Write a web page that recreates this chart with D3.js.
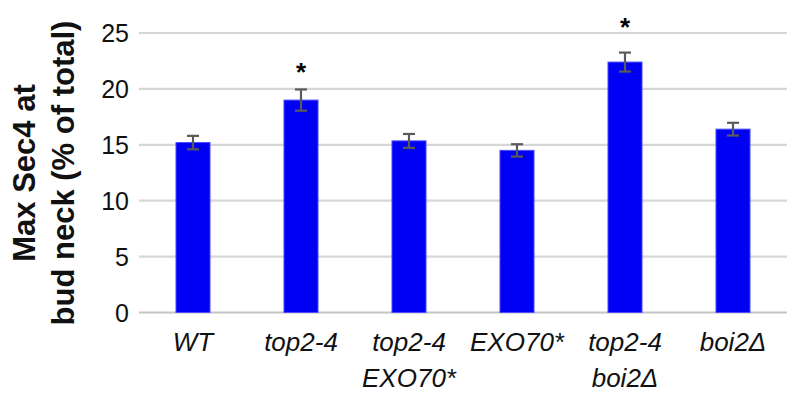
<!DOCTYPE html>
<html>
<head>
<meta charset="utf-8">
<script src="https://cdn.jsdelivr.net/npm/d3@7"></script>
<style>
  html, body { margin: 0; padding: 0; background: #fff; }
  svg { display: block; }
  text { font-family: "Liberation Sans", Arial, Helvetica, sans-serif; }
</style>
</head>
<body>
<svg id="chart" width="792" height="399"></svg>
<script>
const categories = ["WT", "top2-4", "top2-4 EXO70*", "EXO70*", "top2-4 boi2Δ", "boi2Δ"];
const labelLines = [["WT"], ["top2-4"], ["top2-4", "EXO70*"], ["EXO70*"], ["top2-4", "boi2Δ"], ["boi2Δ"]];
const values = [15.2, 19.0, 15.35, 14.5, 22.4, 16.4];
const errors = [0.6, 0.95, 0.62, 0.55, 0.85, 0.57];
const starCategories = ["top2-4", "top2-4 boi2Δ"];
const starValues = [22.0, 26.0];
const yTicks = [0, 5, 10, 15, 20, 25];
const yTitleLines = ["Max Sec4 at", "bud neck (% of total)"];

const svg = d3.select("#chart");
const plotLeft = 139, plotRight = 787, plotTop = 33, plotBottom = 312.5;

const x = d3.scaleBand().domain(categories).range([plotLeft, plotRight])
  .paddingInner(0.685).paddingOuter(0.3425);
const y = d3.scaleLinear().domain([0, 25]).range([plotBottom, plotTop]);

// gridlines
svg.append("g").selectAll("line").data(yTicks).join("line")
  .attr("x1", plotLeft).attr("x2", plotRight)
  .attr("y1", d => y(d)).attr("y2", d => y(d))
  .attr("stroke", d => d === 0 ? "#c4c4c4" : "#d6d6d6")
  .attr("stroke-width", 2.2);

// y tick labels
svg.append("g").selectAll("text").data(yTicks).join("text")
  .attr("x", 129).attr("y", d => y(d))
  .attr("dy", "0.36em")
  .attr("text-anchor", "end")
  .attr("font-size", 25)
  .attr("fill", "#111")
  .text(d => d);

// bars
svg.append("g").selectAll("rect").data(categories).join("rect")
  .attr("x", d => x(d)).attr("width", x.bandwidth())
  .attr("y", (d, i) => y(values[i]))
  .attr("height", (d, i) => y(0) - y(values[i]))
  .attr("fill", "#0000f5")
  .attr("stroke", "#4a4aff").attr("stroke-width", 1);

// error bars
const eb = svg.append("g").attr("stroke", "#5a5a5a").attr("stroke-width", 2.2);
categories.forEach((c, i) => {
  const cx = x(c) + x.bandwidth() / 2;
  const y1 = y(values[i] + errors[i]), y2 = y(values[i] - errors[i]);
  eb.append("line").attr("x1", cx).attr("x2", cx).attr("y1", y1).attr("y2", y2);
  eb.append("line").attr("x1", cx - 6).attr("x2", cx + 6).attr("y1", y1).attr("y2", y1);
  eb.append("line").attr("x1", cx - 6).attr("x2", cx + 6).attr("y1", y2).attr("y2", y2);
});

// significance stars
svg.append("g").selectAll("text").data(starCategories).join("text")
  .attr("x", d => x(d) + x.bandwidth() / 2)
  .attr("y", (d, i) => y(starValues[i]) + 14)
  .attr("text-anchor", "middle")
  .attr("font-size", 26)
  .attr("font-weight", "bold")
  .attr("fill", "#000")
  .text("*");

// x labels
const xl = svg.append("g");
categories.forEach((c, i) => {
  const t = xl.append("text")
    .attr("x", x(c) + x.bandwidth() / 2)
    .attr("y", 351)
    .attr("text-anchor", "middle")
    .attr("font-size", 26)
    .attr("font-style", "italic")
    .attr("fill", "#111");
  labelLines[i].forEach((ln, j) => {
    t.append("tspan").attr("x", x(c) + x.bandwidth() / 2)
      .attr("dy", j === 0 ? 0 : 36).text(ln);
  });
});

// y title
const yt = svg.append("text")
  .attr("transform", "translate(0,173) rotate(-90)")
  .attr("text-anchor", "middle")
  .attr("font-size", 31)
  .attr("font-weight", "bold")
  .attr("fill", "#111");
yTitleLines.forEach((ln, j) => {
  yt.append("tspan").attr("x", 0).attr("y", j === 0 ? 35 : 74).text(ln);
});
</script>
</body>
</html>
